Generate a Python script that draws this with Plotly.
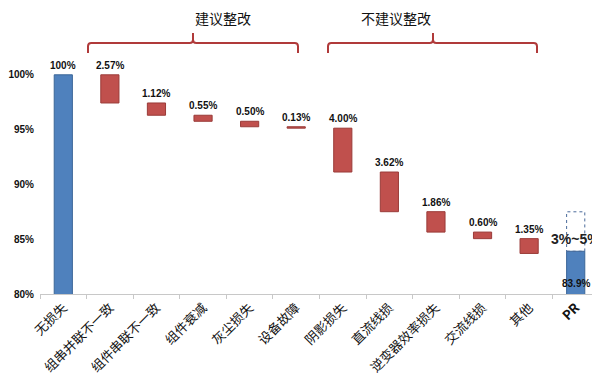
import plotly.graph_objects as go

categories = ["无损失", "组串并联不一致", "组件串联不一致", "组件衰减", "灰尘损失", "设备故障",
              "阴影损失", "直流线损", "逆变器效率损失", "交流线损", "其他", "PR"]
start_value = 100.0
losses = [2.57, 1.12, 0.55, 0.50, 0.13, 4.00, 3.62, 1.86, 0.60, 1.35]
pr_value = 83.9
pr_upper = 87.5
pr_range_label = "3%~5%"
group_labels = ["建议整改", "不建议整改"]
y_ticks = [80, 85, 90, 95, 100]

BLUE = "#4F81BD"
BLUE_EDGE = "#3B6698"
RED = "#C0504D"
RED_EDGE = "#9A3B38"
BRACKET = "#B03A3A"
BW = 0.39

# page has an 8px body margin: figure drawn at (8, 8)
OFF = 8
FIG_W, FIG_H = 600 - OFF, 382 - OFF
PL, PR_, PT, PB = 40, 599, 20, 294  # plot area in page pixels

loss_cats = categories[1:-1]
tops, bases = [], []
level = start_value
for v in losses:
    tops.append(level)
    level -= v
    bases.append(level)

fig = go.Figure()
fig.add_trace(go.Bar(x=[categories[0], categories[-1]], y=[start_value, pr_value],
                     marker=dict(color=BLUE, line=dict(color=BLUE_EDGE, width=1)),
                     width=BW, showlegend=False, hoverinfo="skip"))
fig.add_trace(go.Bar(x=loss_cats, y=losses, base=bases,
                     marker=dict(color=RED, line=dict(color=RED_EDGE, width=1)),
                     width=BW, showlegend=False, hoverinfo="skip"))

lab_font = dict(family="Liberation Sans, Arial", size=10, color="#111111")
ann = []
ann.append(dict(x=categories[0], y=start_value, text="<b>%d%%</b>" % start_value, showarrow=False,
                yanchor="bottom", yshift=2, font=lab_font))
for c, t, v in zip(loss_cats, tops, losses):
    ann.append(dict(x=c, y=t, text="<b>%.2f%%</b>" % v, showarrow=False,
                    yanchor="bottom", yshift=2, font=lab_font))
ann.append(dict(x=categories[-1], y=80, text="<b>%.1f%%</b>" % pr_value, showarrow=False,
                yanchor="bottom", yshift=3, font=lab_font))
ann.append(dict(x=categories[-1], y=85.0, text="<b>" + pr_range_label + "</b>",
                showarrow=False, yanchor="middle",
                font=dict(family="Liberation Sans, Arial", size=14, color="#222222")))

def px2x(px):
    return (px - PL) / float(PR_ - PL)

def py2y(py):
    return (PB - py) / float(PB - PT)

shapes = []
for (x0p, x1p, xcp), label in zip([(88, 298, 193), (328, 537, 433)], group_labels):
    x0, x1, xc = px2x(x0p), px2x(x1p), px2x(xcp)
    yb, yh, yt = py2y(53), py2y(43), py2y(33)
    r = 0.006
    ry = 0.012
    path = (f"M {x0},{yb} L {x0},{yh - ry} Q {x0},{yh} {x0 + r},{yh} "
            f"L {xc - r},{yh} Q {xc},{yh} {xc},{yh + ry} L {xc},{yt} "
            f"M {xc},{yh + ry} Q {xc},{yh} {xc + r},{yh} L {x1 - r},{yh} "
            f"Q {x1},{yh} {x1},{yh - ry} L {x1},{yb}")
    shapes.append(dict(type="path", path=path, xref="paper", yref="paper",
                       line=dict(color=BRACKET, width=2)))
    ann.append(dict(x=xc, y=py2y(18), xref="paper", yref="paper", text=label, showarrow=False,
                    yanchor="middle", font=dict(family="Noto Sans CJK SC", size=14, color="#111111")))

shapes.append(dict(type="rect", xref="x", yref="y", x0=11 - BW / 2, x1=11 + BW / 2,
                   y0=pr_value, y1=pr_upper, line=dict(color="#4A6A9A", width=1, dash="dot"),
                   fillcolor="rgba(0,0,0,0)"))

tick_text = ["<b>PR</b>" if c == "PR" else c for c in categories]

fig.update_layout(
    width=FIG_W, height=FIG_H,
    margin=dict(l=PL - OFF, r=600 - PR_, t=PT - OFF, b=382 - PB, autoexpand=False),
    plot_bgcolor="white", paper_bgcolor="white",
    barmode="overlay",
    annotations=ann, shapes=shapes,
    xaxis=dict(type="category", categoryorder="array", categoryarray=categories,
               tickvals=categories, ticktext=tick_text,
               tickangle=-45, tickson="boundaries", ticks="outside", ticklen=4,
               tickcolor="#C8C8C8", showline=True, linecolor="#C8C8C8", linewidth=1,
               showgrid=False, range=[-0.5, 11.5], automargin=False,
               tickfont=dict(family="Noto Sans CJK SC", size=13, color="#111111")),
    yaxis=dict(range=[80, 105], tickvals=y_ticks, ticktext=["<b>%d%%</b>" % v for v in y_ticks],
               showgrid=False, zeroline=False, showline=False, ticks="", automargin=False,
               ticklabelstandoff=5,
               tickfont=dict(family="Liberation Sans, Arial", size=10, color="#111111")),
)

fig.write_html("out.html")
